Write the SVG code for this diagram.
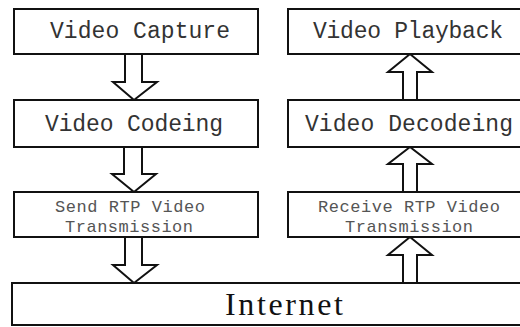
<svg xmlns="http://www.w3.org/2000/svg" width="520" height="327" viewBox="0 0 520 327">
<style>
.box{fill:#fff;stroke:#111;stroke-width:2}
.arr{fill:#fff;stroke:#111;stroke-width:2;stroke-linejoin:miter}
.big{font-family:"Liberation Mono",monospace;font-size:23px;fill:#333}
.small{font-family:"Liberation Mono",monospace;font-size:17px;fill:#555}
.net{font-family:"Liberation Serif",serif;font-size:32px;fill:#111}
</style>
<rect width="520" height="327" fill="#fff"/>
<g id="connectors">
<polygon class="arr" points="125,54 142,54 142,82 157,82 134,100 113,82 125,82"/>
<polygon class="arr" points="124,147 142,147 142,174 156,174 134,192 112,174 124,174"/>
<polygon class="arr" points="125,237 142,237 142,265 157,265 134,283 113,265 125,265"/>
<polygon class="arr" points="403,100 417,100 417,72 432,72 410,54 388,72 403,72"/>
<polygon class="arr" points="403,192 417,192 417,164 432,164 410,147 388,164 403,164"/>
<polygon class="arr" points="403,283 417,283 417,255 432,255 410,237 388,255 403,255"/>
</g>
<g id="capture">
<rect class="box" x="14" y="9" width="244" height="45"/>
<text class="big" x="50" y="38" textLength="180">Video Capture</text>
</g>
<g id="coding">
<rect class="box" x="14" y="100" width="244" height="47"/>
<text class="big" x="45" y="131" textLength="178">Video Codeing</text>
</g>
<g id="send">
<rect class="box" x="14" y="192" width="244" height="45"/>
<text class="small" x="55" y="212" textLength="150">Send RTP Video</text>
<text class="small" x="65" y="232" textLength="128">Transmission</text>
</g>
<g id="playback">
<rect class="box" x="288" y="9" width="240" height="45"/>
<text class="big" x="313" y="38" textLength="190">Video Playback</text>
</g>
<g id="decoding">
<rect class="box" x="288" y="100" width="240" height="47"/>
<text class="big" x="305" y="131" textLength="208">Video Decodeing</text>
</g>
<g id="receive">
<rect class="box" x="288" y="192" width="240" height="45"/>
<text class="small" x="318" y="212" textLength="182">Receive RTP Video</text>
<text class="small" x="345" y="232" textLength="128">Transmission</text>
</g>
<g id="internet">
<rect class="box" x="12" y="283" width="516" height="42"/>
<text class="net" x="225" y="315" textLength="118">Internet</text>
</g>
</svg>
